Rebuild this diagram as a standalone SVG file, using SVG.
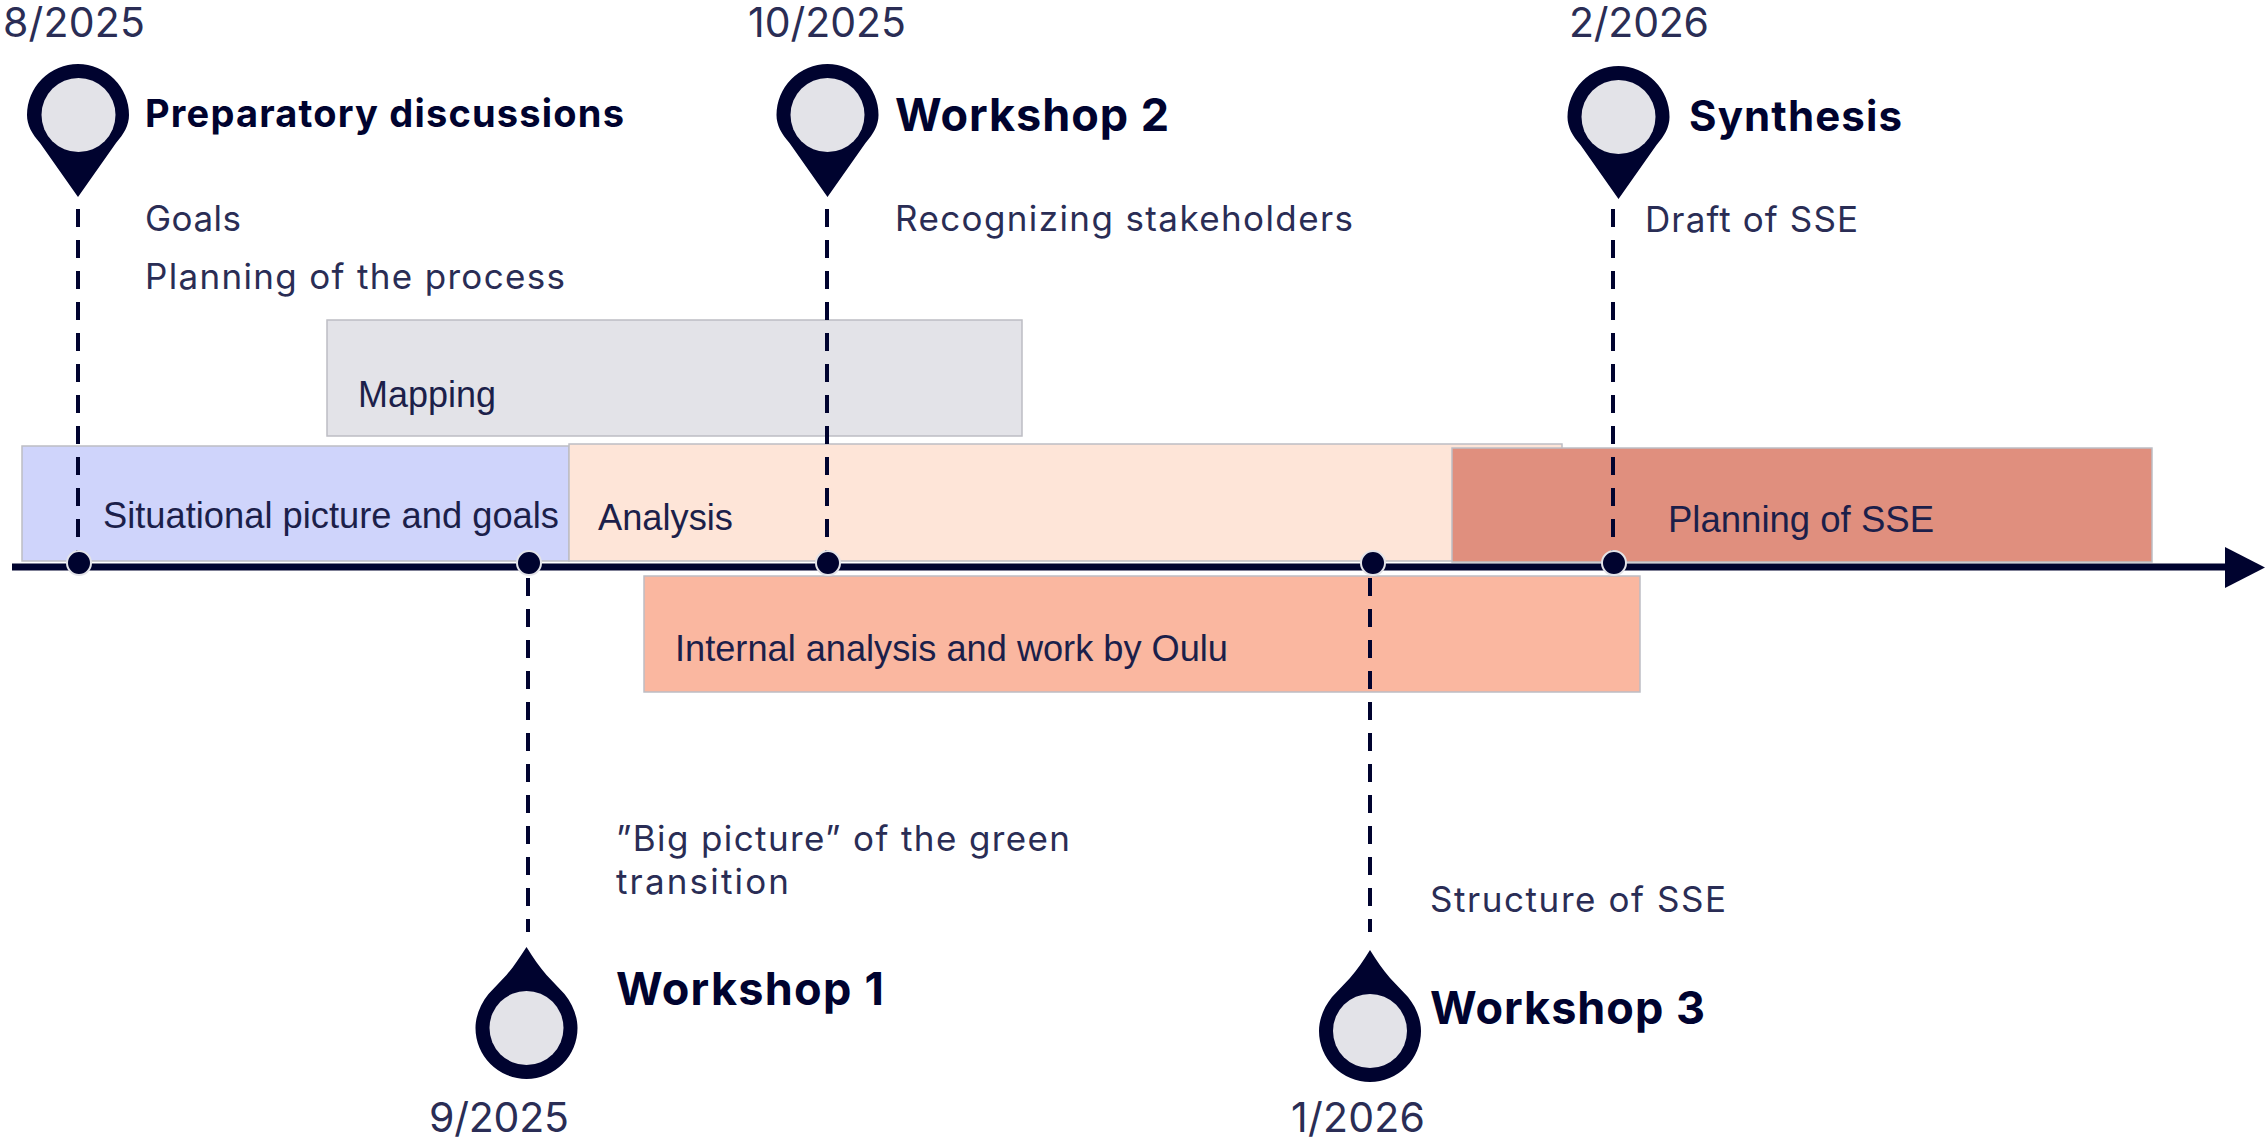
<svg xmlns="http://www.w3.org/2000/svg" width="2266" height="1145" viewBox="0 0 2266 1145">
<style>
.bar{stroke:#bdbdc4;stroke-width:1.5}
.lab{font-family:"Liberation Sans",Arial,sans-serif;font-size:36px;fill:#1c1f4a}
.date{font-family:Inter,"Liberation Sans",sans-serif;font-size:41px;fill:#2a2d55}
.body{font-family:Inter,"Liberation Sans",sans-serif;font-size:35px;fill:#2a2d55}
.head{font-family:Inter,"Liberation Sans",sans-serif;font-weight:700;fill:#00032f}
.pin{fill:#00032f}
.hole{fill:#e3e3e8}
.dash{stroke:#00032f;stroke-width:4;stroke-dasharray:18 13;fill:none}
.dot{fill:#00032f;stroke:#e3e3e8;stroke-width:2}
</style>
<defs>
<path id="pinUp" class="pin" d="M0 82 L-38 28 C-46 19 -51 10 -51 0 A51 51 0 0 1 51 0 C51 10 46 19 38 28Z"/>
<path id="pinDown" class="pin" d="M0 -81 C-7 -70 -13 -61 -20 -53 L-38 -34 C-46 -24 -51 -12 -51 0 A51 51 0 0 0 51 0 C51 -12 46 -24 38 -34 L20 -53 C13 -61 7 -70 0 -81Z"/>
</defs>
<g id="bars">
<rect id="bar-mapping" class="bar" x="327" y="320" width="695" height="116" fill="#e3e3e8"/>
<rect id="bar-situational" class="bar" x="22" y="446" width="547" height="115" fill="#cfd4fb"/>
<rect id="bar-analysis" class="bar" x="569" y="444" width="993" height="117" fill="#fee5d8"/>
<rect id="bar-planning" class="bar" x="1452" y="448" width="700" height="114" fill="#e08f7e"/>
<rect id="bar-internal" class="bar" x="644" y="576" width="996" height="116" fill="#fab7a0"/>
<text class="lab" x="358" y="407" textLength="138" lengthAdjust="spacingAndGlyphs">Mapping</text>
<text class="lab" x="103" y="528" textLength="456" lengthAdjust="spacingAndGlyphs">Situational picture and goals</text>
<text class="lab" x="598" y="530" textLength="135" lengthAdjust="spacingAndGlyphs">Analysis</text>
<text class="lab" x="1668" y="532" textLength="266" lengthAdjust="spacingAndGlyphs">Planning of SSE</text>
<text class="lab" x="675" y="661" textLength="553" lengthAdjust="spacingAndGlyphs">Internal analysis and work by Oulu</text>
</g>
<g id="connectors">
<line class="dash" x1="78" y1="209" x2="78" y2="552"/>
<line class="dash" x1="827" y1="209" x2="827" y2="552"/>
<line class="dash" x1="1613" y1="209" x2="1613" y2="552"/>
<line class="dash" x1="528" y1="578" x2="528" y2="932"/>
<line class="dash" x1="1370" y1="578" x2="1370" y2="932"/>
<line x1="12" y1="567" x2="2230" y2="567" stroke="#00032f" stroke-width="7"/>
<path class="pin" d="M2225 547 L2265 567.500 L2225 588Z"/>
<circle class="dot" cx="79" cy="563" r="12"/>
<circle class="dot" cx="529" cy="563" r="12"/>
<circle class="dot" cx="828" cy="563" r="12"/>
<circle class="dot" cx="1373" cy="563" r="12"/>
<circle class="dot" cx="1614" cy="563" r="12"/>
</g>
<g id="node-preparatory">
<use href="#pinUp" x="78" y="115"/><circle class="hole" cx="78.500" cy="115" r="37"/>
<text class="date" x="3" y="37" textLength="142">8/2025</text>
<text class="head" x="145" y="127" font-size="38" textLength="479">Preparatory discussions</text>
<text class="body" x="145" y="231" textLength="96">Goals</text>
<text class="body" x="145" y="289" textLength="420">Planning of the process</text>
</g>
<g id="node-workshop2">
<use href="#pinUp" x="827.500" y="115"/><circle class="hole" cx="827.500" cy="115" r="37"/>
<text class="date" x="748" y="37" textLength="158">10/2025</text>
<text class="head" x="895" y="131" font-size="45" textLength="274">Workshop 2</text>
<text class="body" x="895" y="231" textLength="458">Recognizing stakeholders</text>
</g>
<g id="node-synthesis">
<use href="#pinUp" x="1618.500" y="117"/><circle class="hole" cx="1618.500" cy="117" r="37"/>
<text class="date" x="1569" y="37" textLength="140">2/2026</text>
<text class="head" x="1689" y="131" font-size="42" textLength="213">Synthesis</text>
<text class="body" x="1645" y="232" textLength="213">Draft of SSE</text>
</g>
<g id="node-workshop1">
<use href="#pinDown" x="526.500" y="1028"/><circle class="hole" cx="526.500" cy="1028" r="37"/>
<text class="date" x="429" y="1132" textLength="140">9/2025</text>
<text class="head" x="616" y="1005" font-size="45" textLength="268">Workshop 1</text>
<text class="body" x="616" y="851" textLength="454">”Big picture” of the green</text>
<text class="body" x="616" y="894" textLength="173">transition</text>
</g>
<g id="node-workshop3">
<use href="#pinDown" x="1370" y="1031"/><circle class="hole" cx="1370" cy="1031" r="37"/>
<text class="date" x="1291" y="1132" textLength="134">1/2026</text>
<text class="head" x="1430" y="1024" font-size="45" textLength="275">Workshop 3</text>
<text class="body" x="1430" y="912" textLength="296">Structure of SSE</text>
</g>
</svg>
